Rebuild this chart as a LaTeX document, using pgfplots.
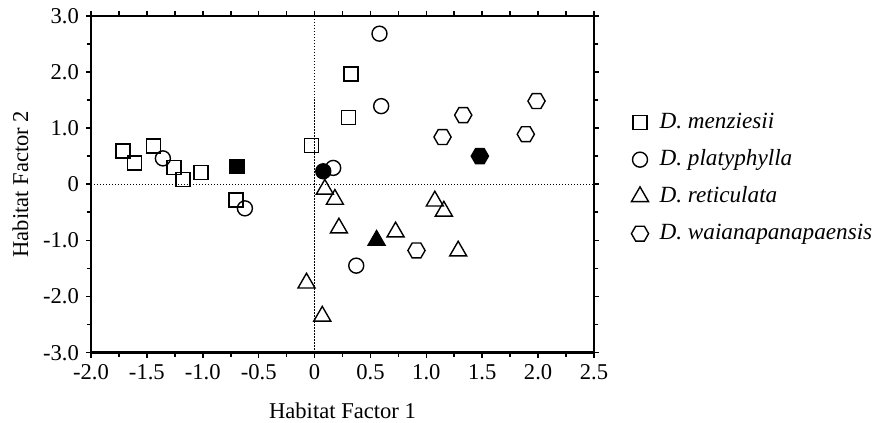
\documentclass[border=0pt]{standalone}
\usepackage{fontspec}
\setmainfont{Liberation Serif}
\usepackage{pgfplots}
\pgfplotsset{compat=1.18}
\pgfdeclareplotmark{hexagon}{%
  \pgfpathmoveto{\pgfpointpolar{0}{\pgfplotmarksize}}%
  \pgfpathlineto{\pgfpointpolar{60}{\pgfplotmarksize}}%
  \pgfpathlineto{\pgfpointpolar{120}{\pgfplotmarksize}}%
  \pgfpathlineto{\pgfpointpolar{180}{\pgfplotmarksize}}%
  \pgfpathlineto{\pgfpointpolar{240}{\pgfplotmarksize}}%
  \pgfpathlineto{\pgfpointpolar{300}{\pgfplotmarksize}}%
  \pgfpathclose
  \pgfusepathqstroke}
\pgfdeclareplotmark{hexagon*}{%
  \pgfpathmoveto{\pgfpointpolar{0}{\pgfplotmarksize}}%
  \pgfpathlineto{\pgfpointpolar{60}{\pgfplotmarksize}}%
  \pgfpathlineto{\pgfpointpolar{120}{\pgfplotmarksize}}%
  \pgfpathlineto{\pgfpointpolar{180}{\pgfplotmarksize}}%
  \pgfpathlineto{\pgfpointpolar{240}{\pgfplotmarksize}}%
  \pgfpathlineto{\pgfpointpolar{300}{\pgfplotmarksize}}%
  \pgfpathclose
  \pgfusepathqfillstroke}

\pgfplotstableread{
x y
-1.715 0.59
-1.613 0.38
-1.443 0.68
-1.258 0.30
-1.178 0.08
-1.017 0.21
-0.704 -0.28
-0.027 0.69
0.304 1.19
0.325 1.96
}\menziesii
\pgfplotstableread{
x y
-1.357 0.46
-0.623 -0.43
0.167 0.29
0.581 2.68
0.596 1.39
0.373 -1.45
}\platyphylla
\pgfplotstableread{
x y
0.092 -0.09
0.182 -0.27
1.076 -0.30
1.157 -0.48
0.218 -0.78
0.725 -0.85
1.285 -1.19
-0.072 -1.76
0.069 -2.35
}\reticulata
\pgfplotstableread{
x y
1.145 0.84
1.330 1.23
1.890 0.89
1.986 1.48
0.912 -1.18
}\waian

\begin{document}
\begin{tikzpicture}[font=\fontsize{11.3}{13.5}\selectfont]
\begin{axis}[
  at={(0,0)}, anchor=south west,
  width=251.5pt, height=168.5pt, scale only axis,
  xmin=-2, xmax=2.5, ymin=-3, ymax=3,
  xtick={-2,-1.5,-1,-0.5,0,0.5,1,1.5,2,2.5},
  xticklabels={-2.0,-1.5,-1.0,-0.5,0,0.5,1.0,1.5,2.0,2.5},
  ytick={-3,-2,-1,0,1,2,3},
  yticklabels={-3.0,-2.0,-1.0,0,1.0,2.0,3.0},
  minor x tick num=1, minor y tick num=1,
  tick align=outside,
  major tick length=2.5pt, minor tick length=2.2pt,
  axis line style={line width=1.2pt},
  every tick/.style={black, line width=0.8pt},
  /pgf/number format/assume math mode=true,
  xlabel={Habitat Factor 1}, ylabel={Habitat Factor 2},
  xlabel style={at={(axis description cs:0.5,-0.173)}, anchor=center},
  ylabel style={at={(axis description cs:-0.1406,0.5)}, anchor=center},
  legend style={draw=none, fill=none, at={(axis description cs:1.0736,0.715)},
    anchor=north west, inner sep=0pt, font=\fontsize{11.6}{13.5}\selectfont\itshape,
    row sep=8.0pt,
    /tikz/column 1/.style={column sep=3.5pt},
    nodes={text height=8pt, text depth=2.5pt, inner ysep=0pt}},
  legend cell align=left,
  legend image code/.code={\draw[#1] plot coordinates {(0pt,0pt)};},
  mark options={solid, line width=0.7pt},
]
\addlegendimage{only marks, mark=square, mark size=3.5pt, line width=0.7pt}
\addlegendentry{D. menziesii}
\addlegendimage{only marks, mark=o, mark size=3.75pt, line width=0.7pt}
\addlegendentry{D. platyphylla}
\addlegendimage{only marks, mark=triangle, mark size=4.9pt, line width=0.7pt}
\addlegendentry{D. reticulata}
\addlegendimage{only marks, mark=hexagon, mark size=4.3pt, line width=0.7pt}
\addlegendentry{D. waianapanapaensis}

\addplot[forget plot, black, line width=0.6pt, dash pattern=on 0.6pt off 0.9pt] coordinates {(-2,0) (2.5,0)};
\addplot[forget plot, black, line width=0.6pt, dash pattern=on 0.6pt off 0.9pt] coordinates {(0,-3) (0,3)};

\addplot[forget plot, only marks, mark=square, mark size=3.5pt, line width=0.7pt] table {\menziesii};
\addplot[forget plot, only marks, mark=o, mark size=3.75pt, line width=0.7pt] table {\platyphylla};
\addplot[forget plot, only marks, mark=triangle, mark size=4.9pt, line width=0.7pt] table {\reticulata};
\addplot[forget plot, only marks, mark=hexagon, mark size=4.3pt, line width=0.7pt] table {\waian};

\addplot[forget plot, only marks, mark=square*, mark size=3.5pt, line width=0.7pt, mark options={fill=black}] coordinates {(-0.695,0.32)};
\addplot[forget plot, only marks, mark=*, mark size=3.75pt, line width=0.7pt, mark options={fill=black}] coordinates {(0.078,0.23)};
\addplot[forget plot, only marks, mark=triangle*, mark size=4.9pt, line width=0.7pt, mark options={fill=black}] coordinates {(0.555,-1.00)};
\addplot[forget plot, only marks, mark=hexagon*, mark size=4.3pt, line width=0.7pt, mark options={fill=black}] coordinates {(1.479,0.50)};
\end{axis}
\pgfresetboundingbox
\path[use as bounding box] (-45.5pt,-35.15pt) rectangle (392pt,176.35pt);
\end{tikzpicture}
\end{document}
